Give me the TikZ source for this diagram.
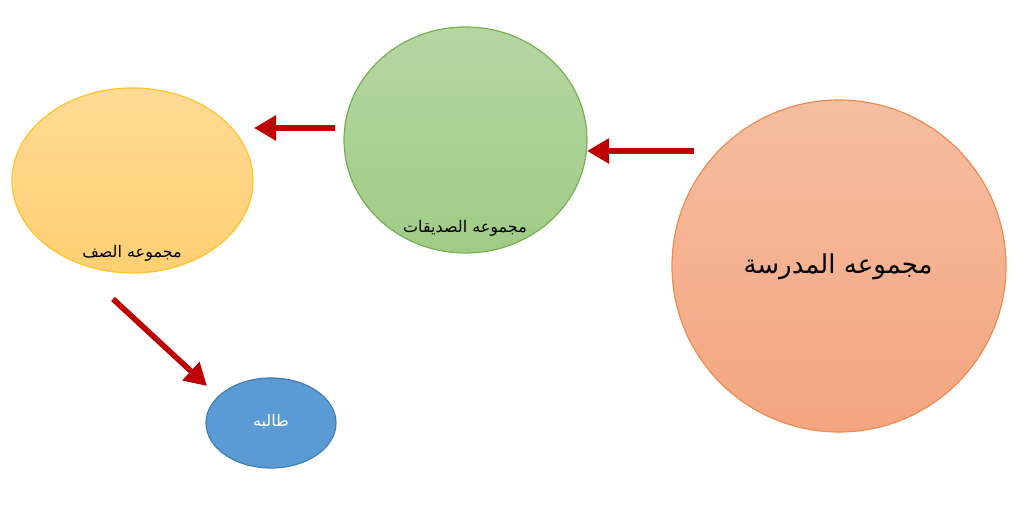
\documentclass[tikz,border=0pt]{standalone}
\usepackage{fontspec}
\usetikzlibrary{shapes.geometric,arrows.meta}
\TeXXeTstate=1
\newfontfamily\arabicfont[Script=Arabic]{DejaVu Sans}
\definecolor{arrred}{HTML}{C00000}
\tikzset{
  blob/.style={ellipse, inner sep=0pt, line width=0.6pt},
  grad/.style={shading=axis, shading angle=0},
  arr/.style={draw=arrred, line width=2.8pt, -{Triangle[length=11pt,width=12pt]}},
  lab/.style={font=\arabicfont\fontsize{8}{10}\selectfont, inner sep=0pt}
}
\begin{document}
\begin{tikzpicture}[x=0.5pt,y=-0.5pt]
\useasboundingbox (0,0) rectangle (1024,517);
\node[blob, grad, minimum width=120.5pt, minimum height=92.5pt, draw={rgb,255:red,255;green,196;blue,40}, top color={rgb,255:red,255;green,218;blue,148}, bottom color={rgb,255:red,255;green,208;blue,115}] (saf) at (132.5,180.5) {};
\node[blob, grad, minimum width=121.5pt, minimum height=113pt, draw={rgb,255:red,120;green,175;blue,85}, top color={rgb,255:red,181;green,214;blue,162}, bottom color={rgb,255:red,160;green,204;blue,134}] (sadiq) at (465.5,140) {};
\node[blob, grad, minimum width=167pt, minimum height=166pt, draw={rgb,255:red,237;green,140;blue,80}, top color={rgb,255:red,245;green,190;blue,160}, bottom color={rgb,255:red,244;green,165;blue,128}] (madrasa) at (839,266) {};
\node[blob, fill={rgb,255:red,91;green,155;blue,213}, minimum width=65pt, minimum height=45pt, draw={rgb,255:red,70;green,125;blue,175}] (taliba) at (271,423) {};

\node[lab] (tsaf) at (132,253) {\beginR مجموعه الصف\endR};
\node[lab] (tsadiq) at (465,228) {\beginR مجموعه الصديقات\endR};
\node[lab, font=\arabicfont\fontsize{13}{16}\selectfont] (tmadrasa) at (838,267) {\beginR مجموعه المدرسة\endR};
\node[lab, text=white] (ttaliba) at (271,422) {\beginR طالبه\endR};

\coordinate (a1s) at (694,151);
\coordinate (a1e) at (587,151);
\coordinate (a2s) at (335,128);
\coordinate (a2e) at (254,128);
\coordinate (a3s) at (113,299);
\coordinate (a3e) at (207,386);
\draw[arr] (a1s) -- (a1e);
\draw[arr] (a2s) -- (a2e);
\draw[arr] (a3s) -- (a3e);
\end{tikzpicture}
\end{document}
